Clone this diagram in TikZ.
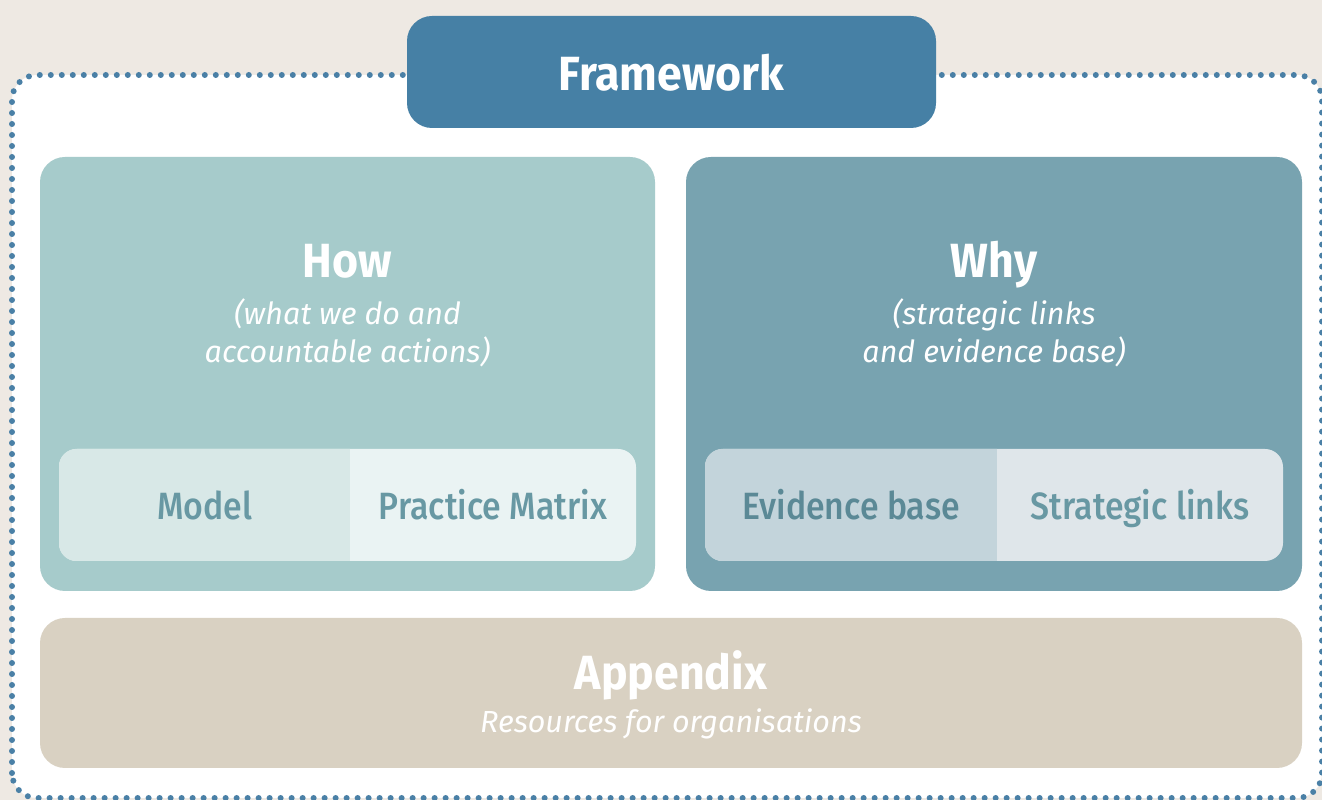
\documentclass[tikz,border=0pt]{standalone}
\usepackage{fontspec}
\setmainfont{Fira Sans}
\newfontfamily\hd[FakeStretch=0.93]{Fira Sans}
\newfontfamily\med[FakeStretch=0.89]{Fira Sans Medium}
\definecolor{bgc}{HTML}{EEE9E3}
\definecolor{dotc}{HTML}{4A80A6}
\definecolor{framec}{HTML}{4680A5}
\definecolor{howc}{HTML}{A6CBCB}
\definecolor{whyc}{HTML}{78A3B0}
\definecolor{howL}{HTML}{D8E8E7}
\definecolor{howR}{HTML}{EAF3F3}
\definecolor{whyL}{HTML}{C3D4DB}
\definecolor{whyR}{HTML}{DFE6EA}
\definecolor{appc}{HTML}{D9D1C2}
\definecolor{labA}{HTML}{6898A3}
\definecolor{labB}{HTML}{5B8996}
\begin{document}
\begin{tikzpicture}[x=1pt,y=1pt,
  box/.style={rectangle, draw=none, rounded corners=25pt, inner sep=0pt},
  inbox/.style={rectangle, draw=none, rounded corners=18pt, inner sep=0pt, minimum width=578, minimum height=112},
  title/.style={anchor=base, text=white, inner sep=0pt, font=\hd\bfseries\fontsize{48}{48}\selectfont},
  sub/.style={anchor=base, text=white, inner sep=0pt, align=center, font=\itshape\fontsize{30.5}{38}\selectfont},
  lab/.style={anchor=base, inner sep=0pt, font=\med\fontsize{38}{38}\selectfont}]
\useasboundingbox (0,0) rectangle (1322,800);
\clip (0,0) rectangle (1322,800);
\fill[bgc] (0,0) rectangle (1322,800);
% dotted frame
\draw[fill=white, draw=dotc, line width=6pt, dash pattern=on 0pt off 11pt, line cap=round, rounded corners=25pt] (12,2) rectangle (1322,725);
% main boxes
\node[box, fill=framec, minimum width=529, minimum height=112] (frame) at (671.5,728) {};
\node[box, fill=howc, minimum width=615, minimum height=434] (how) at (347.5,426) {};
\node[box, fill=whyc, minimum width=616, minimum height=434] (why) at (994,426) {};
\node[box, fill=appc, minimum width=1262, minimum height=150] (app) at (671,107) {};
% inner split boxes
\node[inbox, fill=howR, minimum width=577] (howin) at (347.5,295) {};
\begin{scope}
  \clip[rounded corners=18pt] (howin.south west) rectangle (howin.north east);
  \fill[howL] (howin.south west) rectangle (350,400);
\end{scope}
\node[inbox, fill=whyR] (whyin) at (994,295) {};
\begin{scope}
  \clip[rounded corners=18pt] (whyin.south west) rectangle (whyin.north east);
  \fill[whyL] (whyin.south west) rectangle (997,400);
\end{scope}
% texts
\node[title] (frametxt) at (671.5,709) {Framework};
\node[title] (howtxt) at (347.5,522) {How};
\node[sub] (howsub) at (347.5,437) {(what we do and\\accountable actions)};
\node[title] (whytxt) at (994,522) {Why};
\node[sub] (whysub) at (994,437) {(strategic links\\and evidence base)};
\node[lab, text=labA] (model) at (205,280) {Model};
\node[lab, text=labA] (matrix) at (493,280) {Practice Matrix};
\node[lab, text=labB] (evid) at (851,280) {Evidence base};
\node[lab, text=labA] (strat) at (1140,280) {Strategic links};
\node[title] (apptxt) at (671,110) {Appendix};
\node[sub] (appsub) at (671,67) {Resources for organisations};
\end{tikzpicture}
\end{document}
